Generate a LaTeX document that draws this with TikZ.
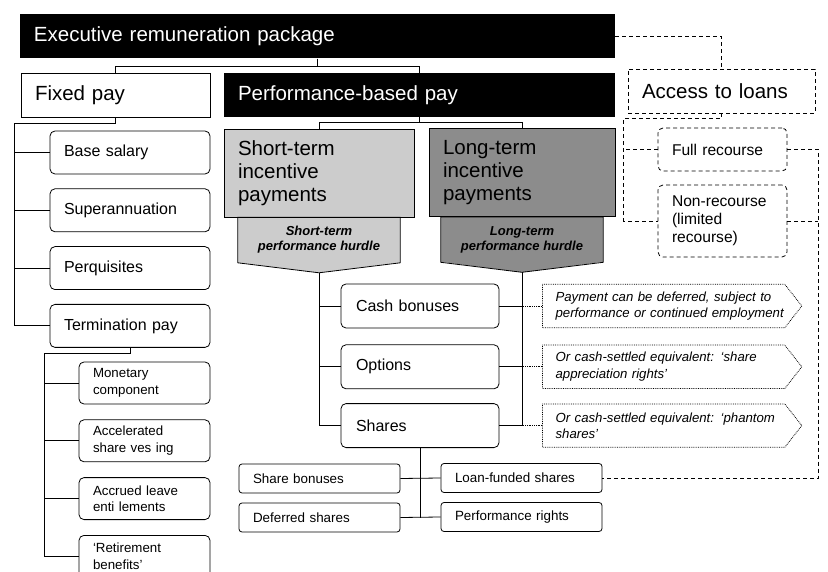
\documentclass[tikz,border=0pt]{standalone}
\usepackage{fontspec}
\setmainfont{Liberation Sans}
\usetikzlibrary{positioning}
\definecolor{stifill}{gray}{0.80}
\definecolor{ltifill}{gray}{0.55}
\tikzstyle{link}=[line width=0.8pt]
\tikzstyle{loanlink}=[line width=0.8pt, dash pattern=on 4pt off 3pt]
\tikzstyle{notelink}=[line width=0.8pt, densely dotted]
\tikzstyle{banner}=[fill=black, text=white, align=left, inner xsep=14pt, minimum height=44pt, font=\fontsize{20.5}{23}\selectfont]
\tikzstyle{header}=[draw, line width=0.8pt, align=left, inner xsep=14pt, minimum height=44pt, font=\fontsize{20.5}{23}\selectfont]
\tikzstyle{incentive}=[draw, line width=0.8pt, align=left, inner xsep=14pt, minimum height=88pt, font=\fontsize{20.5}{23}\selectfont]
\tikzstyle{hurdle}=[align=center, minimum width=162pt, minimum height=45pt, font=\fontsize{13}{15}\selectfont\bfseries\itshape]
\tikzstyle{item}=[draw, rounded corners=5pt, line width=0.8pt, align=left, inner xsep=14pt, minimum height=43pt, text width=132pt, font=\fontsize{16}{18}\selectfont]
\tikzstyle{subitem}=[item, minimum height=42pt, text width=103pt, font=\fontsize{13.3}{16.5}\selectfont]
\tikzstyle{payitem}=[item, minimum height=44pt, inner xsep=15pt, text width=128pt]
\tikzstyle{shareitem}=[item, rounded corners=3pt, minimum height=29pt, text width=133pt, font=\fontsize{13.4}{16}\selectfont]
\tikzstyle{loanitem}=[item, loanlink, text width=101pt, font=\fontsize{15.6}{18}\selectfont]
\tikzstyle{note}=[align=left, inner xsep=13pt, text width=233pt, minimum height=43pt, font=\fontsize{13.2}{16.5}\selectfont\itshape]

\begin{document}
\begin{tikzpicture}[x=1pt, y=-1pt]
    \useasboundingbox (0,0) rectangle (828,572);

    % top of the package
    \node[banner, text width=567pt] (exec) at (317.5,36.5) {Executive remuneration package};
    \node[header, text width=161pt] (fixed) at (115.5,95) {Fixed pay};
    \node[banner, text width=363pt] (perf) at (419.5,95) {Performance-based pay};
    \node[header, loanlink, text width=159pt] (access) at (721.5,91) {Access to loans};

    \draw[link] (exec.south) -- ++(0,8) -| (fixed.north);
    \draw[link] (exec.south) -- ++(0,8) -| (perf.north);

    % fixed pay
    \node[item] (base) at (130,152.5) {Base salary};
    \node[item, below=14pt of base] (super) {Superannuation};
    \node[item, below=14pt of super] (perq) {Perquisites};
    \node[item, below=14pt of perq] (term) {Termination pay};

    \draw[link] (fixed.south) -- ++(0,6) -| ([xshift=-35pt]term.west) -- (term.west);
    \foreach \n in {base, super, perq}
        \draw[link] (\n.west) -- ++(-35,0);

    \node[subitem] (monetary) at (144.5,383) {Monetary\\component};
    \node[subitem, below=15pt of monetary] (accel) {Accelerated\\share ves ing};
    \node[subitem, below=15pt of accel] (accrued) {Accrued leave\\enti lements};
    \node[subitem, below=15pt of accrued] (retire) {`Retirement\\benefits'};

    \draw[link] (term.south) -- ++(0,6) -| ([xshift=-34pt]retire.west) -- (retire.west);
    \foreach \n in {monetary, accel, accrued}
        \draw[link] (\n.west) -- ++(-34,0);

    % performance-based pay
    \node[incentive, fill=stifill, text width=162pt] (sti) at (319,173) {Short-term\\incentive\\payments};
    \node[incentive, fill=ltifill, text width=158pt] (lti) at (522,172.5) {Long-term\\incentive\\payments};
    \node[hurdle, fill=stifill, below=0pt of sti] (sth) {Short-term\\performance hurdle};
    \node[hurdle, fill=ltifill, below=0pt of lti] (lth) {Long-term\\performance hurdle};
    \foreach \h/\c in {sth/stifill, lth/ltifill} {
        \fill[\c] ([yshift=0.5pt]\h.south west) -- ([yshift=-10pt]\h.south) -- ([yshift=0.5pt]\h.south east) -- cycle;
        \draw[link] (\h.north west) -- (\h.north east) -- (\h.south east) -- ([yshift=-10pt]\h.south) -- (\h.south west) -- cycle;
    }

    \draw[link] (perf.south) -- ++(0,5) -| (sti.north);
    \draw[link] (perf.south) -- ++(0,5) -| (lti.north);

    \node[payitem] (cash) at (420,306) {Cash bonuses};
    \node[payitem, below=16pt of cash] (options) {Options};
    \node[payitem, below=14pt of options] (shares) {Shares};

    \draw[link] ([yshift=-10pt]sth.south) |- (shares.west);
    \draw[link] ([yshift=-10pt]lth.south) |- (shares.east);
    \foreach \n in {cash, options} {
        \draw[link] (\n.west) -- ++(-22,0);
        \draw[link] (\n.east) -- ++(22,0);
    }

    % notes on the right
    \node[note, right=43pt of cash] (paynote) {Payment can be deferred, subject to\\performance or continued employment};
    \node[note, right=43pt of options] (optnote) {Or cash-settled equivalent: `share\\appreciation rights'};
    \node[note, right=43pt of shares] (sharenote) {Or cash-settled equivalent: `phantom\\shares'};
    \foreach \n/\m in {paynote/cash, optnote/options, sharenote/shares} {
        \draw[notelink] (\n.north west) -- ([xshift=-17pt]\n.north east) -- (\n.east) -- ([xshift=-17pt]\n.south east) -- (\n.south west) -- cycle;
        \draw[notelink] ([xshift=22pt]\m.east) -- (\n.west);
    }

    % kinds of shares
    \node[shareitem] (sbonus) at (319.5,478.5) {Share bonuses};
    \node[shareitem] (deferred) at (319.5,517.5) {Deferred shares};
    \node[shareitem] (loan) at (521.5,478) {Loan-funded shares};
    \node[shareitem] (prights) at (521.5,517) {Performance rights};

    \draw[link] (shares.south) -- (shares.south |- deferred.east);
    \draw[link] (sbonus.east) -- (loan.west);
    \draw[link] (deferred.east) -- (prights.west);

    % loans
    \node[loanitem] (full) at (722.5,149.5) {Full recourse};
    \node[loanitem, minimum height=72pt] (nonrec) at (722.5,221) {Non-recourse\\(limited\\recourse)};

    \draw[loanlink] (exec.east) -| (access.north);
    \draw[loanlink] (access.south) -- ++(0,5) -| ([xshift=-34pt]nonrec.west) -- (nonrec.west);
    \draw[loanlink] (full.west) -- ++(-34,0);
    \draw[loanlink] (full.east) -- ++(31,0) |- (loan.east);
    \draw[loanlink] (nonrec.east) -- ++(31,0);
\end{tikzpicture}
\end{document}
